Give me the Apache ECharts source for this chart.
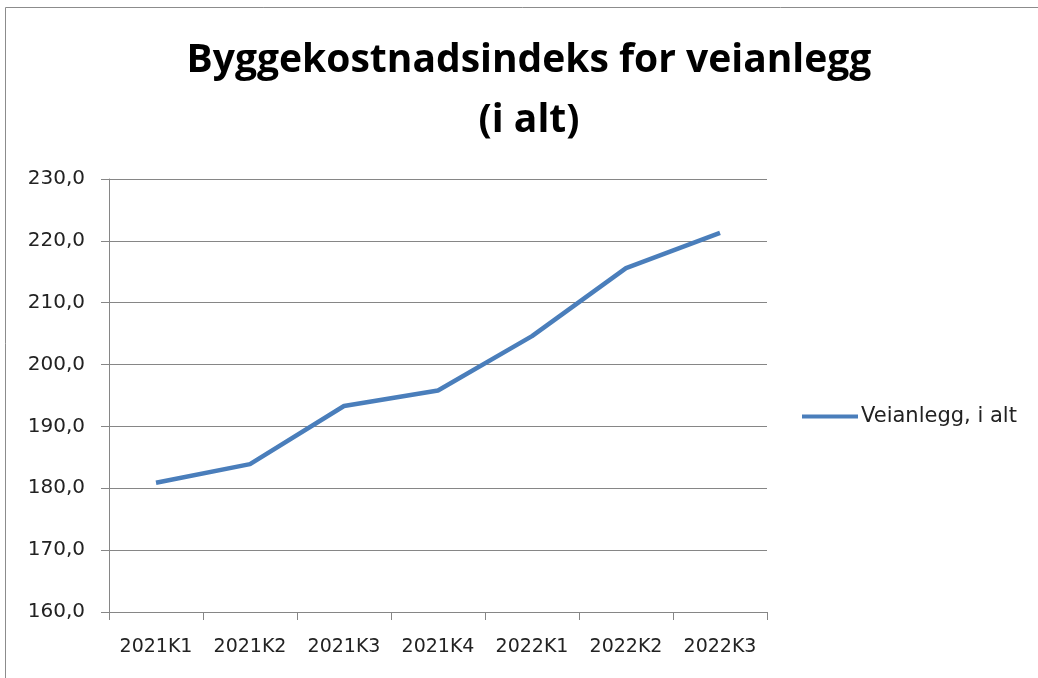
<!DOCTYPE html>
<html>
<head>
<meta charset="utf-8">
<script src="https://cdn.jsdelivr.net/npm/echarts@6/dist/echarts.min.js"></script>
<style>
  html, body { margin: 0; padding: 0; background: #fff; }
  #main { width: 1038px; height: 678px; }
</style>
</head>
<body>
<div id="main"></div>
<script>
// kvartaler
const categories = ['2021K1', '2021K2', '2021K3', '2021K4', '2022K1', '2022K2', '2022K3']
// indeksverdier
const values = [180.9, 183.9, 193.3, 195.8, 204.6, 215.6, 221.3]
const seriesName = 'Veianlegg, i alt'
const titleText = 'Byggekostnadsindeks for veianlegg\n(i alt)'

var myChart = echarts.init(document.getElementById('main'))

var option = {
    animation: false,
    backgroundColor: '#fff',
    graphic: [{
        type: 'rect',
        shape: { x: 5.5, y: 7.5, width: 1040, height: 680 },
        style: { fill: 'none', stroke: '#8c8c8c', lineWidth: 1 }
    }],
    title: {
        text: titleText,
        left: 524,
        top: 26,
        textAlign: 'center',
        textStyle: {
            fontFamily: 'Open Sans',
            fontWeight: 'bold',
            fontSize: 39,
            lineHeight: 60,
            color: '#000'
        }
    },
    legend: {
        data: [seriesName],
        orient: 'vertical',
        left: 797,
        top: 401,
        itemWidth: 56,
        itemHeight: 4,
        itemGap: 0,
        icon: 'rect',
        textStyle: { fontFamily: 'DejaVu Sans', fontSize: 21, color: '#222', padding: [0, 0, 0, -2] }
    },
    grid: { left: 109, top: 179, width: 658, height: 433, containLabel: false },
    xAxis: {
        type: 'category',
        data: categories,
        boundaryGap: true,
        axisLine: { lineStyle: { color: '#868686', width: 1 } },
        axisTick: { show: true, length: 8, lineStyle: { color: '#868686' } },
        axisLabel: { interval: 0, hideOverlap: false, fontFamily: 'DejaVu Sans', fontSize: 19, color: '#222', margin: 26 }
    },
    yAxis: {
        type: 'value',
        min: 160,
        max: 230,
        interval: 10,
        axisLine: { show: true, lineStyle: { color: '#868686', width: 1 } },
        axisTick: { show: true, inside: false, length: 8, lineStyle: { color: '#868686' } },
        splitLine: { lineStyle: { color: '#868686', width: 1 } },
        axisLabel: {
            fontFamily: 'DejaVu Sans', fontSize: 20, color: '#222', margin: 24,
            formatter: function (v) { return v.toFixed(1).replace('.', ',') }
        }
    },
    series: [{
        name: seriesName,
        type: 'line',
        data: values,
        showSymbol: false,
        symbol: 'none',
        lineStyle: { color: '#4a7ebb', width: 4.5 },
        itemStyle: { color: '#4a7ebb' }
    }]
}

myChart.setOption(option)
</script>
</body>
</html>
